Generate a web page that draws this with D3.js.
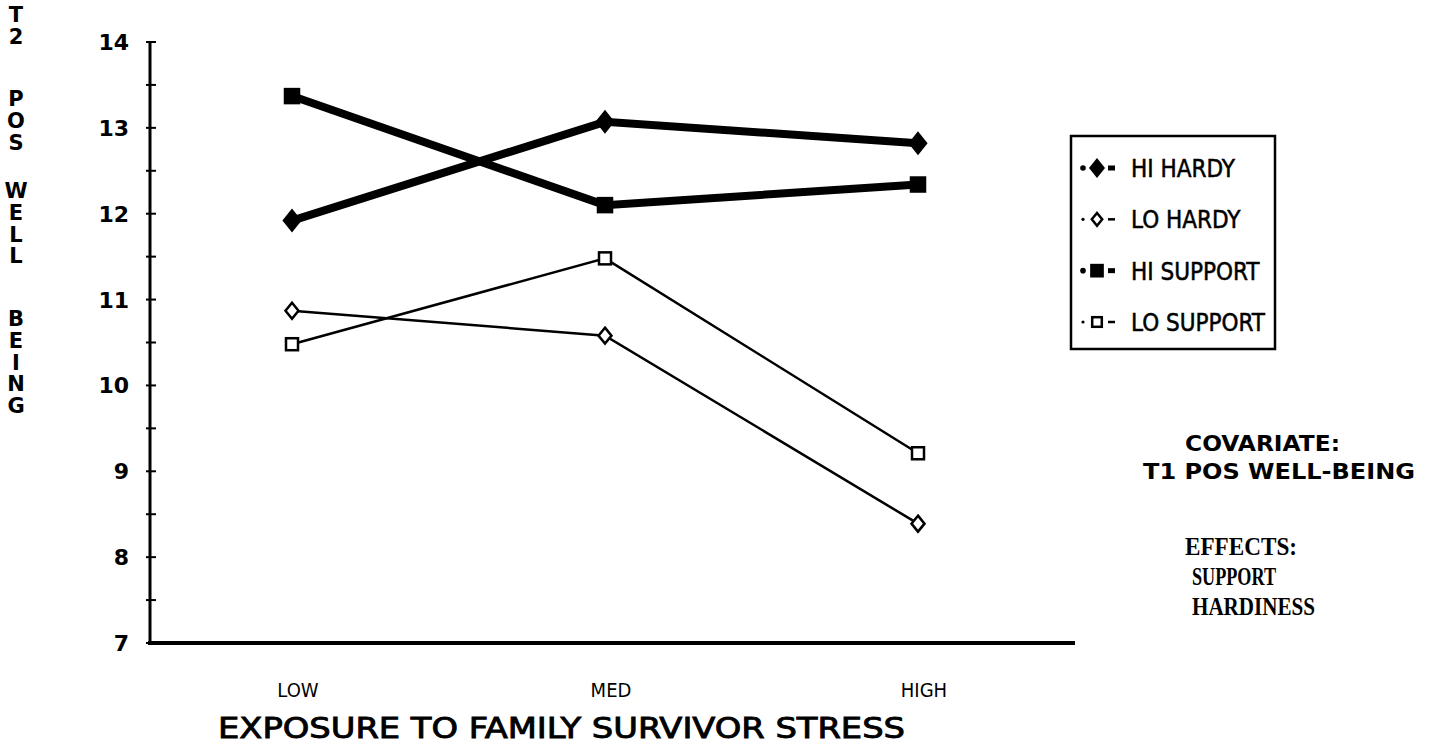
<!DOCTYPE html>
<html>
<head>
<meta charset="utf-8">
<script src="https://cdn.jsdelivr.net/npm/d3@7"></script>
<style>
  body { margin: 0; background: #fff; }
  svg { display: block; }
  text { fill: #000; }
</style>
</head>
<body>
<div class="container"></div>
<script>
// data
var stressLevels = ["LOW", "MED", "HIGH"];
var hiHardy   = [11.92, 13.07, 12.82];
var loHardy   = [10.87, 10.58, 8.39];
var hiSupport = [13.37, 12.10, 12.34];
var loSupport = [10.48, 11.48, 9.21];
var seriesNames = ["HI HARDY", "LO HARDY", "HI SUPPORT", "LO SUPPORT"];
var yTicks = [7, 8, 9, 10, 11, 12, 13, 14];
var yTitleWords = ["T2", "POS", "WELL", "BEING"];
var notes = ["COVARIATE:", "T1 POS WELL-BEING"];
var effects = ["EFFECTS:", "SUPPORT", "HARDINESS"];

var opts = { width: 1432, height: 749 };

var series = [
  { name: seriesNames[0], values: hiHardy,   shape: "diamond", filled: true,  thick: true },
  { name: seriesNames[1], values: loHardy,   shape: "diamond", filled: false, thick: false },
  { name: seriesNames[2], values: hiSupport, shape: "square",  filled: true,  thick: true },
  { name: seriesNames[3], values: loSupport, shape: "square",  filled: false, thick: false }
];

var svg = d3.select('.container').append('svg')
  .attr('width', opts.width).attr('height', opts.height);

var x = d3.scalePoint().domain(stressLevels).range([292, 918]);
var y = d3.scaleLinear().domain([7, 14]).range([643, 42]);
var axisLeft = 150, axisRight = 1075;

// y axis with major + half ticks crossing the line
svg.append('line')
  .attr('x1', axisLeft).attr('x2', axisLeft)
  .attr('y1', y(14)).attr('y2', y(7))
  .attr('stroke', '#000').attr('stroke-width', 3);

var minor = d3.range(7.5, 14, 1);
svg.selectAll('.tick').data(yTicks.concat(minor)).enter().append('line')
  .attr('x1', axisLeft - 4).attr('x2', axisLeft + 6)
  .attr('y1', function(d){ return y(d); }).attr('y2', function(d){ return y(d); })
  .attr('stroke', '#000').attr('stroke-width', 2);

svg.selectAll('.ylab').data(yTicks).enter().append('text')
  .attr('x', 129).attr('y', function(d){ return y(d) + 8; })
  .attr('text-anchor', 'end')
  .style('font-family', 'DejaVu Sans').style('font-size', '22px').style('font-weight', 'bold')
  .text(function(d){ return d; });

// x axis
svg.append('line')
  .attr('x1', axisLeft - 2).attr('x2', axisRight)
  .attr('y1', y(7)).attr('y2', y(7))
  .attr('stroke', '#000').attr('stroke-width', 4);

svg.selectAll('.xlab').data(stressLevels).enter().append('text')
  .attr('x', function(d){ return x(d) + 6; }).attr('y', 697)
  .attr('text-anchor', 'middle')
  .style('font-family', 'Liberation Sans Narrow, DejaVu Sans Condensed').style('font-size', '20px')
  .text(function(d){ return d; });

svg.append('text')
  .attr('x', 218).attr('y', 738)
  .attr('textLength', 687).attr('lengthAdjust', 'spacingAndGlyphs')
  .attr('stroke', '#000').attr('stroke-width', 0.8)
  .style('font-family', 'DejaVu Sans Condensed, DejaVu Sans').style('font-size', '28px')
  .text("EXPOSURE TO FAMILY SURVIVOR STRESS");

// y axis title, one letter per line, words separated by gaps
var wordTop = [14, 98, 190, 318];
yTitleWords.forEach(function(w, wi){
  svg.selectAll(null).data(w.split('')).enter().append('text')
    .attr('x', 16).attr('y', function(d, i){ return wordTop[wi] + 8 + i * 21.8; })
    .attr('text-anchor', 'middle')
    .style('font-family', 'DejaVu Sans').style('font-size', '21px').style('font-weight', 'bold')
    .text(function(d){ return d; });
});

// lines
var line = d3.line()
  .x(function(d, i){ return x(stressLevels[i]); })
  .y(function(d){ return y(d); });

svg.selectAll('.series').data(series).enter().append('path')
  .attr('d', function(d){ return line(d.values); })
  .attr('fill', 'none').attr('stroke', '#000')
  .attr('stroke-width', function(d){ return d.thick ? 8 : 2.5; });

function drawMarker(g, s, cx, cy, k) {
  k = k || 1;
  if (s.shape === "diamond") {
    var w = (s.filled ? 8 : 6.5) * k, h = (s.filled ? 10 : 8) * k;
    g.append('path')
      .attr('d', 'M' + cx + ',' + (cy - h) + 'L' + (cx + w) + ',' + cy + 'L' + cx + ',' + (cy + h) + 'L' + (cx - w) + ',' + cy + 'Z')
      .attr('fill', s.filled ? '#000' : '#fff').attr('stroke', '#000').attr('stroke-width', 2.5);
  } else {
    var r = (s.filled ? 7 : 6) * k;
    g.append('rect')
      .attr('x', cx - r).attr('y', cy - r).attr('width', 2 * r).attr('height', 2 * r)
      .attr('fill', s.filled ? '#000' : '#fff').attr('stroke', '#000').attr('stroke-width', 2.5);
  }
}

series.forEach(function(s){
  s.values.forEach(function(v, i){
    drawMarker(svg, s, x(stressLevels[i]), y(v));
  });
});

// legend
var legend = svg.append('g');
legend.append('rect')
  .attr('x', 1071).attr('y', 136).attr('width', 204).attr('height', 213)
  .attr('fill', '#fff').attr('stroke', '#000').attr('stroke-width', 2.5);

var legendY = d3.scalePoint().domain(seriesNames).range([168, 322]);
series.forEach(function(s){
  var ly = legendY(s.name);
  legend.append('circle').attr('cx', 1083).attr('cy', ly).attr('r', s.filled ? 2.8 : 1.6).attr('fill', '#000');
  legend.append('line').attr('x1', 1108).attr('x2', 1115).attr('y1', ly).attr('y2', ly)
    .attr('stroke', '#000').attr('stroke-width', s.filled ? 5 : 2.5);
  drawMarker(legend, s, 1097, ly, 0.8);
  legend.append('text')
    .attr('x', 1131).attr('y', ly + 9)
    .attr('stroke', '#000').attr('stroke-width', 0.5)
    .style('font-family', 'DejaVu Sans Condensed, DejaVu Sans').style('font-size', '24px')
    .text(s.name);
});

// notes on the right
var noteX = [1185, 1143], noteW = [155, 272];
svg.selectAll('.note').data(notes).enter().append('text')
  .attr('x', function(d, i){ return noteX[i]; }).attr('y', function(d, i){ return 451 + i * 28; })
  .attr('textLength', function(d, i){ return noteW[i]; }).attr('lengthAdjust', 'spacingAndGlyphs')
  .style('font-family', 'DejaVu Sans').style('font-size', '22px').style('font-weight', 'bold')
  .text(function(d){ return d; });

var effX = [1185, 1192, 1192], effW = [112, 84, 123];
svg.selectAll('.effect').data(effects).enter().append('text')
  .attr('x', function(d, i){ return effX[i]; }).attr('y', function(d, i){ return 555 + i * 30; })
  .attr('textLength', function(d, i){ return effW[i]; }).attr('lengthAdjust', 'spacingAndGlyphs')
  .style('font-family', 'Liberation Serif').style('font-size', '25px').style('font-weight', 'bold')
  .text(function(d){ return d; });
</script>
</body>
</html>
